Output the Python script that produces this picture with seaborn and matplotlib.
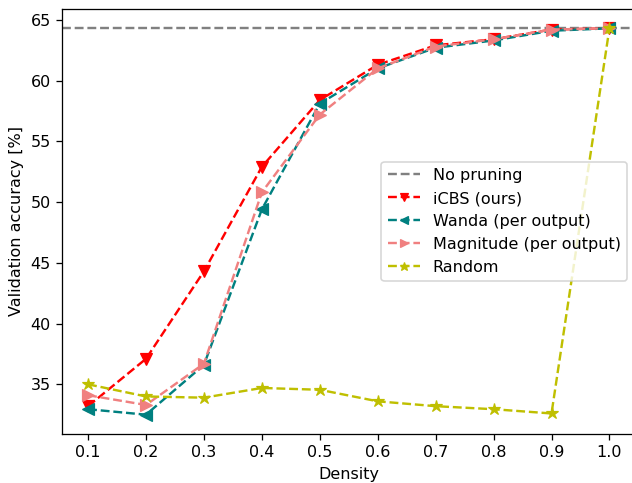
import pandas as pd
import matplotlib.pyplot as plt
import seaborn as sns

# -------------------- DATA --------------------
density = [0.1, 0.2, 0.3, 0.4, 0.5, 0.6, 0.7, 0.8, 0.9, 1.0]
no_pruning = 64.3
icbs = [33.2, 37.1, 44.3, 52.9, 58.4, 61.3, 62.9, 63.4, 64.2, 64.3]
wanda = [32.95, 32.5, 36.6, 49.4, 58.1, 61.0, 62.7, 63.3, 64.1, 64.3]
magnitude = [34.1, 33.3, 36.7, 50.8, 57.2, 61.0, 62.8, 63.4, 64.2, 64.3]
random_ = [35.0, 34.0, 33.9, 34.7, 34.55, 33.6, 33.2, 32.95, 32.6, 64.3]

df = pd.DataFrame({
    "density": density,
    "iCBS (ours)": icbs,
    "Wanda (per output)": wanda,
    "Magnitude (per output)": magnitude,
    "Random": random_,
})

series = [
    ("iCBS (ours)", "red", "v"),
    ("Wanda (per output)", "teal", "<"),
    ("Magnitude (per output)", "lightcoral", ">"),
    ("Random", "y", "*"),
]

# -------------------- PLOT --------------------
dpi = 115
fig = plt.figure(figsize=(632 / dpi, 483 / dpi), dpi=dpi)
# image is cropped on the right, so the axes run past the right edge
ax = fig.add_axes([62 / 632, 1 - 434 / 483, 573.5 / 632, 425 / 483])
ax.axhline(no_pruning, color="gray", linestyle="--", label="No pruning")
for name, color, marker in series:
    sns.lineplot(data=df, x="density", y=name, ax=ax, color=color, marker=marker,
                 markersize=7.5, markeredgecolor=color, linestyle="--", label=name)

ax.set_xticks(density)
ax.set_xlabel("Density")
ax.set_ylabel("Validation accuracy [%]")
ax.spines["right"].set_visible(False)
ax.legend(loc="center left", bbox_to_anchor=(0.543, 0.5), markerscale=0.75)
plt.savefig("out.png")
